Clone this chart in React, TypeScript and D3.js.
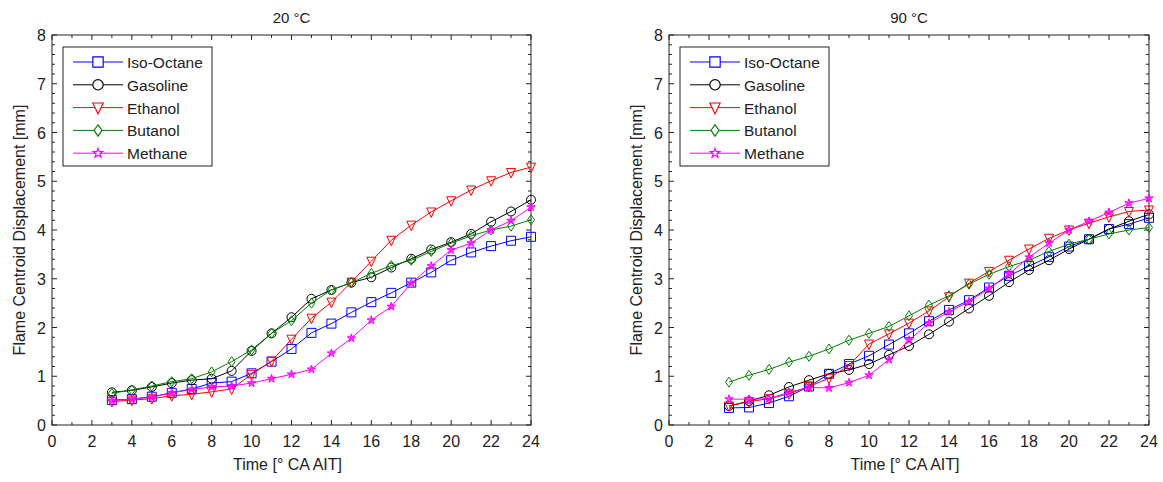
import React from 'react';
import * as d3 from 'd3';

// crank angle after ignition, degrees
const times = [3, 4, 5, 6, 7, 8, 9, 10, 11, 12, 13, 14, 15, 16, 17, 18, 19, 20, 21, 22, 23, 24];

const fuels = ['Iso-Octane', 'Gasoline', 'Ethanol', 'Butanol', 'Methane'];

// 20 °C
const iso20 = [0.51, 0.53, 0.58, 0.66, 0.74, 0.86, 0.89, 1.06, 1.30, 1.56, 1.89, 2.08, 2.31, 2.52, 2.71, 2.92, 3.13, 3.38, 3.54, 3.67, 3.78, 3.86];
const gas20 = [0.67, 0.71, 0.78, 0.86, 0.92, 0.95, 1.11, 1.52, 1.88, 2.21, 2.59, 2.77, 2.92, 3.03, 3.23, 3.41, 3.60, 3.75, 3.92, 4.17, 4.38, 4.62];
const eth20 = [0.48, 0.51, 0.54, 0.60, 0.63, 0.68, 0.74, 1.04, 1.31, 1.76, 2.19, 2.52, 2.93, 3.36, 3.79, 4.10, 4.37, 4.60, 4.82, 5.01, 5.18, 5.29];
const but20 = [0.65, 0.72, 0.80, 0.89, 0.95, 1.09, 1.30, 1.54, 1.88, 2.14, 2.50, 2.77, 2.92, 3.11, 3.27, 3.38, 3.56, 3.73, 3.88, 4.00, 4.08, 4.21];
const met20 = [0.50, 0.53, 0.57, 0.66, 0.73, 0.78, 0.80, 0.86, 0.95, 1.04, 1.14, 1.47, 1.78, 2.15, 2.43, 2.91, 3.26, 3.59, 3.73, 4.00, 4.19, 4.47];

// 90 °C
const iso90 = [0.35, 0.36, 0.45, 0.59, 0.79, 1.05, 1.25, 1.42, 1.65, 1.88, 2.13, 2.36, 2.56, 2.82, 3.06, 3.26, 3.45, 3.66, 3.81, 4.02, 4.12, 4.25];
const gas90 = [0.39, 0.49, 0.61, 0.78, 0.92, 1.05, 1.13, 1.25, 1.44, 1.62, 1.86, 2.12, 2.39, 2.65, 2.93, 3.18, 3.38, 3.61, 3.81, 4.02, 4.18, 4.32];
const eth90 = [0.39, 0.48, 0.54, 0.64, 0.79, 0.96, 1.22, 1.66, 1.87, 2.09, 2.34, 2.63, 2.91, 3.15, 3.38, 3.61, 3.83, 4.00, 4.14, 4.27, 4.38, 4.41];
const but90 = [0.88, 1.02, 1.14, 1.29, 1.41, 1.56, 1.74, 1.88, 2.02, 2.24, 2.46, 2.65, 2.89, 3.09, 3.25, 3.38, 3.56, 3.71, 3.81, 3.92, 4.00, 4.05];
const met90 = [0.53, 0.53, 0.54, 0.67, 0.77, 0.76, 0.87, 1.02, 1.34, 1.74, 2.09, 2.32, 2.53, 2.80, 3.10, 3.44, 3.73, 4.00, 4.18, 4.36, 4.55, 4.65];

const xTicks = [0, 2, 4, 6, 8, 10, 12, 14, 16, 18, 20, 22, 24];
const yTicks = [0, 1, 2, 3, 4, 5, 6, 7, 8];

const colors = ['#0000ff', '#000000', '#ff0000', '#008000', '#ff00ff'];
const FONT = '"Liberation Sans", Arial, sans-serif';

const W = 1163;
const H = 482;
const top = 35;
const bottom = 425;

// marker path for each fuel, centred on 0,0
const markerPath = (i: number) => {
  const s = 4.5;
  switch (i) {
    case 0:
      return `M${-s},${-s}H${s}V${s}H${-s}Z`;
    case 1:
      return d3.symbol(d3.symbolCircle, Math.PI * s * s)() as string;
    case 2:
      return `M${-s},${-s + 0.5}H${s}L0,${s + 1}Z`;
    case 3:
      return `M0,${-s - 0.5}L${s - 1},0L0,${s + 0.5}L${-s + 1},0Z`;
    default:
      return d3.symbol(d3.symbolStar, 22)() as string;
  }
};

const Panel = ({ title, left, right, series }: { title: string; left: number; right: number; series: number[][] }) => {
  const x = d3.scaleLinear().domain([0, 24]).range([left, right]);
  const y = d3.scaleLinear().domain([0, 8]).range([bottom, top]);
  const line = d3.line<number>().x((d, i) => x(times[i])).y(d => y(d));

  const xMinor = d3.range(0, 25, 1);
  const yMinor = d3.range(0, 8.01, 0.2);
  const cx = (left + right) / 2;

  return (
    <g fontFamily={FONT}>
      <text x={cx} y={23} textAnchor="middle" fontSize={15} fill="#222">{title}</text>

      {/* ticks, inward on all four sides */}
      {xMinor.map(t => {
        const len = t % 2 === 0 ? 5 : 3;
        return (
          <g key={'xt' + t} stroke="#222" strokeWidth={1}>
            <line x1={x(t)} x2={x(t)} y1={bottom} y2={bottom - len} />
            <line x1={x(t)} x2={x(t)} y1={top} y2={top + len} />
          </g>
        );
      })}
      {yMinor.map((v, k) => {
        const len = k % 5 === 0 ? 5 : 3;
        return (
          <g key={'yt' + k} stroke="#222" strokeWidth={1}>
            <line x1={left} x2={left + len} y1={y(v)} y2={y(v)} />
            <line x1={right} x2={right - len} y1={y(v)} y2={y(v)} />
          </g>
        );
      })}
      <rect x={left} y={top} width={right - left} height={bottom - top} fill="none" stroke="#222" strokeWidth={1} />

      {xTicks.map(t => (
        <text key={'xl' + t} x={x(t)} y={447} textAnchor="middle" fontSize={16} fill="#222">{t}</text>
      ))}
      {yTicks.map(v => (
        <text key={'yl' + v} x={left - 6} y={y(v) + 6} textAnchor="end" fontSize={16} fill="#222">{v}</text>
      ))}

      <text x={cx - 4} y={470} textAnchor="middle" fontSize={16} fill="#222">Time [° CA AIT]</text>
      <text
        transform={`translate(${left - 27},${(top + bottom) / 2}) rotate(-90)`}
        textAnchor="middle"
        fontSize={16}
        fill="#222"
      >
        Flame Centroid Displacement [mm]
      </text>

      {/* data */}
      {series.map((vals, i) => (
        <g key={'s' + i}>
          <path d={line(vals) as string} fill="none" stroke={colors[i]} strokeWidth={1} />
          {vals.map((v, j) => (
            <path
              key={j}
              d={markerPath(i)}
              transform={`translate(${x(times[j])},${y(v)})`}
              fill={i === 4 ? colors[i] : 'none'}
              fillOpacity={i === 4 ? 0.7 : 1}
              stroke={colors[i]}
              strokeWidth={1}
            />
          ))}
        </g>
      ))}

      {/* legend */}
      <rect x={left + 11} y={47} width={149} height={119} fill="#fff" stroke="#222" strokeWidth={1} />
      {fuels.map((f, i) => {
        const ly = 62 + i * 22.8;
        return (
          <g key={f}>
            <line x1={left + 21} x2={left + 71} y1={ly} y2={ly} stroke={colors[i]} strokeWidth={1} />
            <path d={markerPath(i)} transform={`translate(${left + 46},${ly}) scale(1.15)`} fill="#fff" stroke={colors[i]} strokeWidth={1} />
            <text x={left + 75} y={ly + 6} fontSize={15.5} fill="#222">{f}</text>
          </g>
        );
      })}
    </g>
  );
};

export default function App() {
  return (
    <div style={{ position: 'absolute', left: 0, top: 0 }}>
      <svg width={W} height={H} style={{ display: 'block', background: '#fff' }}>
        <Panel title="20 °C" left={52} right={531} series={[iso20, gas20, eth20, but20, met20]} />
        <Panel title="90 °C" left={669} right={1149} series={[iso90, gas90, eth90, but90, met90]} />
      </svg>
    </div>
  );
}
